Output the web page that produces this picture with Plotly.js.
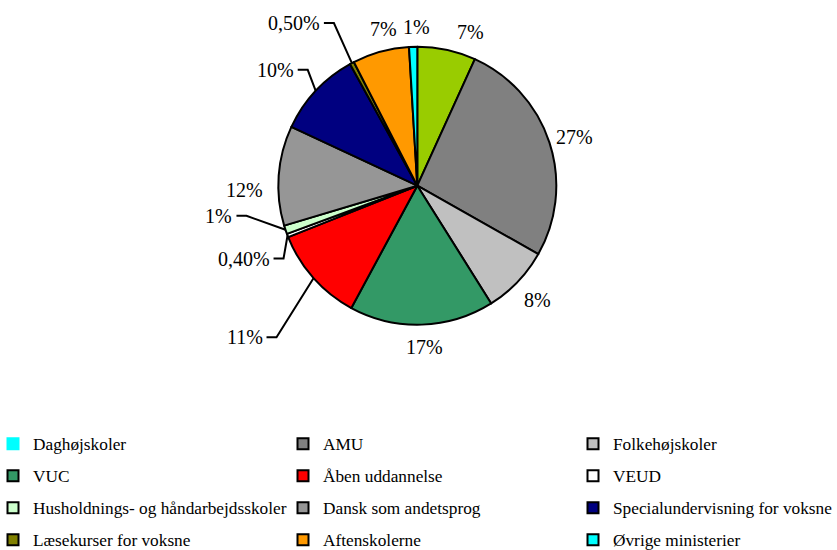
<!DOCTYPE html>
<html><head><meta charset="utf-8">
<script src="https://cdn.plot.ly/plotly-3.0.1.min.js"></script>
<style>html,body{margin:0;padding:0;background:#fff;overflow:hidden}</style>
</head><body><div id="chart" style="width:837px;height:550px"></div>
<script>
// ---- data ----
const categories = ["Daghøjskoler","AMU","Folkehøjskoler","VUC","Åben uddannelse","VEUD",
  "Husholdnings- og håndarbejdsskoler","Dansk som andetsprog","Specialundervisning for voksne",
  "Læsekurser for voksne","Aftenskolerne","Øvrige ministerier"];
const shares = [6.8, 26.4, 7.9, 16.8, 11.1, 0.4, 1.0, 11.6, 10.0, 0.5, 6.6, 0.95];
const shareLabels = ["7%","27%","8%","17%","11%","0,40%","1%","12%","10%","0,50%","7%","1%"];
const sliceColors = ["#99CC00","#808080","#C0C0C0","#339966","#FF0000","#FFFFFF",
  "#CCFFCC","#969696","#000080","#808000","#FF9900","#00FFFF"];
const legendColors = ["#00FFFF","#808080","#C0C0C0","#339966","#FF0000","#FFFFFF",
  "#CCFFCC","#969696","#000080","#808000","#FF9900","#00FFFF"];
const legendColumns = [[0,3,6,9],[1,4,7,10],[2,5,8,11]];

// ---- layout config ----
const W = 837, H = 550;
const pieCenter = {x: 417.3, y: 185.7}, pieR = 139, labelGap = 8;
const serif = '"Liberation Serif", "Times New Roman", serif';
const labelFont = {family: serif, size: 20, color: '#000'};
const legendFont = {family: serif, size: 17.3, color: '#000'};
const leaderElbows = {4: [-37, 59], 5: [-4, 23], 6: [-39, -14], 8: [-8, -21], 9: [-18, -40]};
const labelNudges = {0: [19, 0], 7: [-8, 16], 2: [4, 6], 3: [2, 4], 10: [8, -5], 11: [4, -2]};
const legendX = [-7, 283, 573];  // px
const legendTop = 426;           // px

const px = p => p / W, py = p => 1 - p / H;
const ctx = document.createElement('canvas').getContext('2d');
ctx.font = labelFont.size + 'px "Liberation Serif"';

const total = shares.reduce((a, b) => a + b, 0);
let cum = 0;
const mids = shares.map(v => { const m = (cum + v / 2) / total * 2 * Math.PI; cum += v; return m; });

const annotations = [], shapes = [];
mids.forEach((a, i) => {
  const s = Math.sin(a), c = Math.cos(a);
  if (leaderElbows[i]) {
    const ex = pieCenter.x + pieR * s, ey = pieCenter.y - pieR * c;
    const bx = ex + leaderElbows[i][0], by = ey + leaderElbows[i][1];
    const endX = bx - 10;
    shapes.push({type: 'path', xref: 'paper', yref: 'paper',
      path: `M ${px(ex)},${py(ey)} L ${px(bx)},${py(by)} L ${px(endX)},${py(by)}`,
      line: {color: '#000', width: 2}});
    annotations.push({xref: 'paper', yref: 'paper', x: px(endX - 2), y: py(by),
      xanchor: 'right', yanchor: 'middle', text: shareLabels[i], showarrow: false, font: labelFont});
  } else {
    const d = pieR + labelGap;
    const Px = pieCenter.x + d * s, Py = pieCenter.y - d * c;
    const fx = (1 - s) / 2, fy = (1 + c) / 2;
    const w = ctx.measureText(shareLabels[i]).width, h = labelFont.size;
    const n = labelNudges[i] || [0, 0];
    const cx = Px + (0.5 - fx) * w + n[0], cy = Py + (0.5 - fy) * h + n[1];
    annotations.push({xref: 'paper', yref: 'paper', x: px(cx), y: py(cy),
      xanchor: 'center', yanchor: 'middle', text: shareLabels[i], showarrow: false, font: labelFont});
  }
});

const traces = [{
  type: 'pie', values: shares, labels: categories, sort: false, direction: 'clockwise', rotation: 0,
  marker: {colors: sliceColors, line: {color: '#000', width: 2}},
  textinfo: 'none', hoverinfo: 'label+percent', showlegend: false,
  domain: {x: [px(pieCenter.x - pieR), px(pieCenter.x + pieR)], y: [py(pieCenter.y + pieR), py(pieCenter.y - pieR)]}
}];
const layout = {
  width: W, height: H, margin: {l: 0, r: 0, t: 0, b: 0, autoexpand: false},
  paper_bgcolor: '#fff', plot_bgcolor: '#fff',
  xaxis: {visible: false}, yaxis: {visible: false},
  annotations, shapes
};
legendColumns.forEach((col, k) => {
  const key = k === 0 ? 'legend' : 'legend' + (k + 1);
  layout[key] = {orientation: 'v', x: px(legendX[k]), xanchor: 'left', y: py(legendTop), yanchor: 'top',
    font: legendFont, bgcolor: 'rgba(0,0,0,0)', traceorder: 'grouped', tracegroupgap: 6.5,
    itemclick: false, itemdoubleclick: false};
  col.forEach(i => {
    traces.push({type: 'scatter', x: [null], y: [null], mode: 'markers', name: categories[i],
      legend: key, legendgroup: 'g' + i, showlegend: true, hoverinfo: 'skip',
      marker: {symbol: 'square', size: i === 0 ? 13 : 11, color: legendColors[i],
        line: {color: i === 0 ? legendColors[i] : '#000', width: i === 0 ? 0 : 2}}});
  });
});
Plotly.newPlot('chart', traces, layout, {displayModeBar: false, staticPlot: true});
</script></body></html>
